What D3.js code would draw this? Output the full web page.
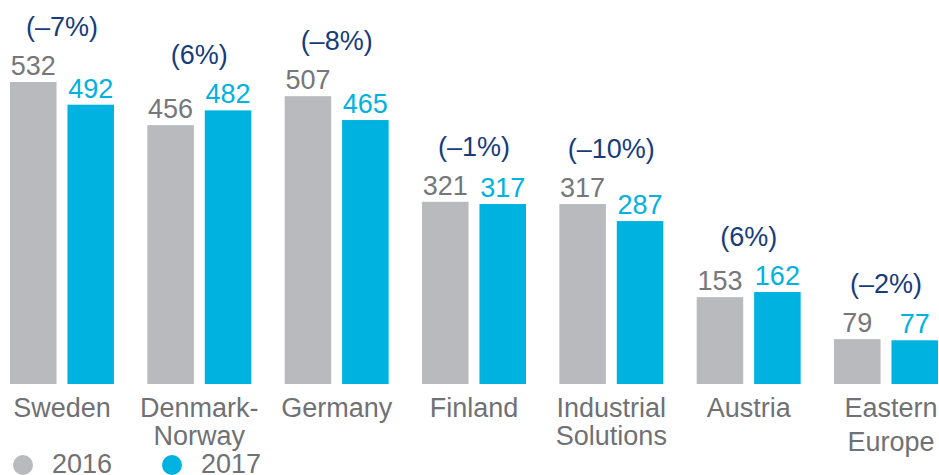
<!DOCTYPE html>
<html>
<head>
<meta charset="utf-8">
<script src="https://cdnjs.cloudflare.com/ajax/libs/d3/7.8.5/d3.min.js"></script>
<style>
    body { margin: 0; background: #fff; }
    svg text { font-family: "Liberation Sans", Arial, sans-serif; }
</style>
</head>
<body>
<div id="chart"></div>
<script>
// chart data
var categories = ["Sweden", "Denmark-\nNorway", "Germany", "Finland", "Industrial\nSolutions", "Austria", "Eastern\nEurope"];
var years = ["2016", "2017"];
var values2016 = [532, 456, 507, 321, 317, 153, 79];
var values2017 = [492, 482, 465, 317, 287, 162, 77];
var changeLabels = ["(\u20137%)", "(6%)", "(\u20138%)", "(\u20131%)", "(\u201310%)", "(6%)", "(\u20132%)"];

var colors = {"2016": "#b9babe", "2017": "#00b2e0"};
var labelColors = {"2016": "#76777b", "2017": "#00b2e0"};

var width = 939, height = 475;
var baseline = 384;

var svg = d3.select("#chart").append("svg")
    .attr("width", width)
    .attr("height", height);

// scales
var x0 = d3.scaleBand()
    .domain(categories)
    .range([10, 938])
    .paddingInner(0.243)
    .paddingOuter(0);

var x1 = d3.scaleBand()
    .domain(years)
    .range([0, x0.bandwidth()])
    .paddingInner(0.19)
    .paddingOuter(0);

var y = d3.scaleLinear()
    .domain([0, 532])
    .range([baseline, 82]);

var rows = categories.map(function(c, i) {
    return {cat: c, change: changeLabels[i], vals: [
        {year: "2016", value: values2016[i]},
        {year: "2017", value: values2017[i]}
    ]};
});

var groups = svg.selectAll(".group")
    .data(rows)
    .enter()
    .append("g")
    .attr("class", "group")
    .attr("transform", function(d) { return "translate(" + x0(d.cat) + ",0)"; });

groups.selectAll("rect")
    .data(function(d) { return d.vals; })
    .enter()
    .append("rect")
    .attr("x", function(d) { return x1(d.year); })
    .attr("y", function(d) { return y(d.value); })
    .attr("width", x1.bandwidth())
    .attr("height", function(d) { return baseline - y(d.value); })
    .attr("fill", function(d) { return colors[d.year]; });

// value labels
groups.selectAll(".val")
    .data(function(d) { return d.vals; })
    .enter()
    .append("text")
    .attr("class", "val")
    .attr("x", function(d) { return x1(d.year) + x1.bandwidth() / 2; })
    .attr("y", function(d) { return y(d.value) - 7; })
    .attr("text-anchor", "middle")
    .style("font-size", "27px")
    .style("fill", function(d) { return labelColors[d.year]; })
    .text(function(d) { return d.value; });

// change labels above each group
groups.append("text")
    .attr("x", x0.bandwidth() / 2)
    .attr("y", function(d) { return y(d3.max(d.vals, function(v) { return v.value; })) - 46; })
    .attr("text-anchor", "middle")
    .style("font-size", "27px")
    .style("fill", "#163c7c")
    .text(function(d) { return d.change; });

// category labels (two lines where needed)
groups.append("text")
    .attr("class", "cat")
    .attr("text-anchor", "middle")
    .style("font-size", "27px")
    .style("fill", "#6f7175")
    .each(function(d) {
        var lines = d.cat.split("\n");
        var eastern = d.cat.indexOf("Eastern") === 0;
        var gap = eastern ? 34 : 28;
        var shift = eastern ? 5 : 0;
        d3.select(this).selectAll("tspan")
            .data(lines)
            .enter()
            .append("tspan")
            .attr("x", x0.bandwidth() / 2 + shift)
            .attr("y", function(l, i) { return 417 + i * gap; })
            .text(function(l) { return l; });
    });

// legend
var legend = svg.selectAll(".legend")
    .data(years)
    .enter()
    .append("g")
    .attr("class", "legend")
    .attr("transform", function(d, i) { return "translate(" + (23 + i * 149) + ",465)"; });

legend.append("circle")
    .attr("r", 10)
    .attr("fill", function(d) { return colors[d]; });

legend.append("text")
    .attr("x", 29)
    .attr("y", 8)
    .style("font-size", "27px")
    .style("fill", "#6f7175")
    .text(function(d) { return d; });
</script>
</body>
</html>
